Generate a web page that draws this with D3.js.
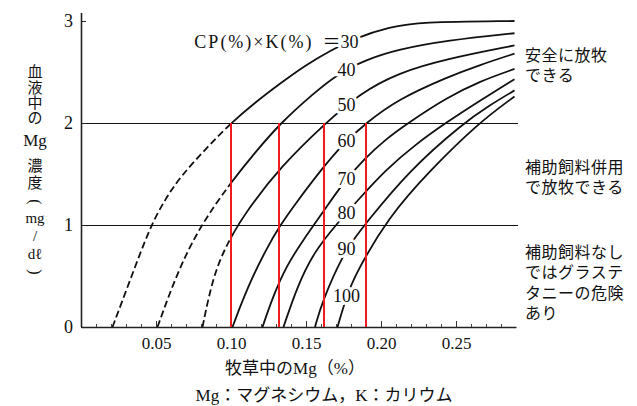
<!DOCTYPE html>
<html>
<head>
<meta charset="utf-8">
<script src="https://cdn.jsdelivr.net/npm/d3@7"></script>
<style>
  body { margin: 0; background: #fff; }
  text { font-family: "Liberation Serif", "Noto Sans CJK JP", serif; fill: #111; }
</style>
</head>
<body>
<div id="chart"></div>
<script>
// CP(%) x K(%) values, one curve each
const cpK = [30, 40, 50, 60, 70, 80, 90, 100];

// Mg in forage (%) -> Mg in blood (mg/dl)
const mg30 = [0.021, 0.033, 0.046, 0.056, 0.066, 0.084, 0.100, 0.116, 0.133, 0.149, 0.166, 0.184, 0.206, 0.225, 0.289];
const bl30 = [0, 0.47, 0.98, 1.25, 1.47, 1.76, 2.0, 2.2, 2.39, 2.56, 2.71, 2.84, 2.94, 2.99, 3.0];
const mg40 = [0.051, 0.064, 0.079, 0.099, 0.116, 0.133, 0.155, 0.171, 0.190, 0.211, 0.244, 0.289];
const bl40 = [0, 0.53, 0.98, 1.40, 1.71, 2.0, 2.29, 2.48, 2.62, 2.72, 2.81, 2.88];
const mg50 = [0.081, 0.088, 0.098, 0.111, 0.133, 0.163, 0.186, 0.211, 0.244, 0.289];
const bl50 = [0, 0.50, 0.84, 1.15, 1.57, 2.0, 2.29, 2.49, 2.63, 2.76];
const mg60 = [0.101, 0.111, 0.124, 0.133, 0.141, 0.161, 0.175, 0.190, 0.211, 0.244, 0.266, 0.289];
const bl60 = [0, 0.39, 0.78, 1.0, 1.17, 1.56, 1.80, 2.0, 2.23, 2.45, 2.57, 2.68];
const mg70 = [0.121, 0.128, 0.137, 0.148, 0.161, 0.175, 0.189, 0.203, 0.218, 0.244, 0.266, 0.289];
const bl70 = [0, 0.30, 0.60, 0.85, 1.12, 1.42, 1.65, 1.84, 2.0, 2.25, 2.41, 2.53];
const mg80 = [0.135, 0.144, 0.155, 0.171, 0.185, 0.203, 0.223, 0.243, 0.266, 0.289];
const bl80 = [0, 0.39, 0.73, 1.02, 1.25, 1.54, 1.79, 2.0, 2.22, 2.43];
const mg90 = [0.156, 0.161, 0.175, 0.184, 0.189, 0.219, 0.255, 0.272, 0.289];
const bl90 = [0, 0.26, 0.72, 0.9, 1.0, 1.54, 2.0, 2.17, 2.32];
const mg100 = [0.171, 0.177, 0.183, 0.205, 0.233, 0.265, 0.289];
const bl100 = [0, 0.30, 0.52, 1.08, 1.54, 2.0, 2.26];

// forage Mg where each red line meets blood Mg = 2
const criticalMg = [0.100, 0.132, 0.162, 0.190];
const criticalBlood = 2;
const gridBlood = [1, 2];
const dashedBelowMg = 0.10;

const yTicks = [0, 1, 2, 3];
const xMajor = [0.05, 0.10, 0.15, 0.20, 0.25];
const xMinor = d3.range(1, 29).map(d => d / 100);

const yTitle = ["血", "液", "中", "の", "Mg", "濃", "度", "(", "mg", "/", "dℓ", ")"];
const zoneSafe = ["安全に放牧", "できる"];
const zoneFeed = ["補助飼料併用", "で放牧できる"];
const zoneRisk = ["補助飼料なし", "ではグラステ", "タニーの危険", "あり"];
const xTitle = "牧草中のMg（%）";
const caption = "Mg：マグネシウム，K：カリウム";
const legendText = "CP(%)×K(%)";

const series = [
  {k: 30, mg: mg30, bl: bl30}, {k: 40, mg: mg40, bl: bl40},
  {k: 50, mg: mg50, bl: bl50}, {k: 60, mg: mg60, bl: bl60},
  {k: 70, mg: mg70, bl: bl70}, {k: 80, mg: mg80, bl: bl80},
  {k: 90, mg: mg90, bl: bl90}, {k: 100, mg: mg100, bl: bl100}
].map(s => ({k: s.k, pts: s.mg.map((m, i) => [m, s.bl[i]])}));

const width = 637, height = 406;
const x = d3.scaleLinear().domain([0, 0.29]).range([81, 516]);
const y = d3.scaleLinear().domain([0, 3]).range([327, 21]);

const svg = d3.select("#chart").append("svg")
  .attr("width", width)
  .attr("height", height);

svg.append("rect").attr("width", width).attr("height", height).attr("fill", "#fff");

// clip areas for the dashed (extrapolated) and solid parts
const defs = svg.append("defs");
defs.append("clipPath").attr("id", "clipDash")
  .append("rect").attr("x", 0).attr("y", 0)
  .attr("width", x(dashedBelowMg)).attr("height", height);
defs.append("clipPath").attr("id", "clipSolid")
  .append("rect").attr("x", x(dashedBelowMg)).attr("y", 0)
  .attr("width", width).attr("height", height);

// grid lines at 1 and 2
svg.selectAll(".grid").data(gridBlood).join("line")
  .attr("x1", x(0)).attr("x2", x(0.29) + 2)
  .attr("y1", d => y(d) + 0.5).attr("y2", d => y(d) + 0.5)
  .attr("stroke", "#111").attr("stroke-width", 1);

// axes
const xAxisMinor = svg.append("g")
  .attr("transform", `translate(0,${y(0)})`)
  .call(d3.axisBottom(x).tickValues(xMinor).tickSize(-3).tickSizeOuter(0).tickFormat(""));
xAxisMinor.select(".domain").attr("stroke-width", 1.6).attr("stroke", "#222");
xAxisMinor.selectAll(".tick line").attr("stroke", "#444");

const xAxis = svg.append("g")
  .attr("transform", `translate(0,${y(0)})`)
  .call(d3.axisBottom(x).tickValues(xMajor).tickSize(-6).tickSizeOuter(0).tickPadding(10)
    .tickFormat(d3.format(".2f")));
xAxis.select(".domain").remove();
xAxis.selectAll(".tick line").attr("stroke", "#333");
xAxis.selectAll("text").attr("font-size", 17).attr("font-family", "Liberation Serif").attr("fill", "#111");

const yAxis = svg.append("g")
  .attr("transform", `translate(${x(0)},0)`)
  .call(d3.axisLeft(y).tickValues(yTicks).tickSize(-5).tickSizeOuter(0).tickPadding(8)
    .tickFormat(d3.format("d")));
yAxis.select(".domain").remove();
yAxis.selectAll(".tick line").attr("stroke", "#222");
yAxis.selectAll("text").attr("font-size", 18).attr("font-family", "Liberation Serif").attr("fill", "#111");

svg.append("line")
  .attr("x1", x(0) + 0.5).attr("x2", x(0) + 0.5)
  .attr("y1", y(0)).attr("y2", y(3) - 8)
  .attr("stroke", "#222").attr("stroke-width", 1.6);

// curves
const line = d3.line()
  .x(d => x(d[0]))
  .y(d => y(d[1]))
  .curve(d3.curveBasis);

const curves = svg.append("g");
curves.selectAll(".dash").data(series.filter(s => s.pts[0][0] < dashedBelowMg)).join("path")
  .attr("d", d => line(d.pts))
  .attr("clip-path", "url(#clipDash)")
  .attr("fill", "none").attr("stroke", "#111").attr("stroke-width", 1.8)
  .attr("stroke-dasharray", "7,3.5");
curves.selectAll(".solid").data(series).join("path")
  .attr("d", d => line(d.pts))
  .attr("clip-path", "url(#clipSolid)")
  .attr("fill", "none").attr("stroke", "#111").attr("stroke-width", 1.8);

// curve labels, sitting on each curve
const labelMg = 0.177;
const labels = svg.append("g");
series.forEach(s => {
  const interp = d3.scaleLinear().domain(s.pts.map(p => p[0])).range(s.pts.map(p => p[1]));
  const lx = x(labelMg), ly = y(interp(labelMg));
  labels.append("text")
    .attr("x", s.k === 30 ? lx + 12 : lx)
    .attr("y", ly)
    .attr("text-anchor", s.k === 30 ? "end" : "middle")
    .attr("dominant-baseline", "central")
    .attr("font-size", 18)
    .attr("stroke", "#fff").attr("stroke-width", 6)
    .attr("paint-order", "stroke")
    .text(s.k === 30 ? "＝" + s.k : s.k);
  if (s.k === 30) {
    labels.append("text")
      .attr("x", lx - 33)
      .attr("y", ly)
      .attr("text-anchor", "end")
      .attr("dominant-baseline", "central")
      .attr("font-size", 18)
      .attr("letter-spacing", 2)
      .text(legendText);
  }
});

// red critical lines
svg.selectAll(".crit").data(criticalMg).join("line")
  .attr("x1", d => x(d)).attr("x2", d => x(d))
  .attr("y1", y(0)).attr("y2", y(criticalBlood))
  .attr("stroke", "#f01c1c").attr("stroke-width", 2);

// zone notes on the right
function note(lines, cy) {
  svg.append("g").selectAll("text").data(lines).join("text")
    .attr("x", x(0.29) + 9)
    .attr("y", (d, i) => cy + i * 20.5)
    .attr("dominant-baseline", "central")
    .attr("font-family", "Noto Sans CJK JP")
    .attr("font-size", 16)
    .attr("letter-spacing", 0.5)
    .text(d => d);
}
note(zoneSafe, 55);
note(zoneFeed, 167);
note(zoneRisk, 252);

// vertical y title, brackets turned for vertical writing
const yTitleStep = [72, 88, 103, 118, 140, 166, 183, 202, 218, 236, 254, 272];
svg.append("g").selectAll("text").data(yTitle).join("text")
  .attr("x", 35)
  .attr("y", (d, i) => yTitleStep[i])
  .attr("text-anchor", "middle")
  .attr("dominant-baseline", "central")
  .attr("font-size", d => d === "Mg" ? 17 : (/[()]/.test(d) ? 16 : 15))
  .attr("transform", (d, i) => /[()]/.test(d) ? `rotate(90,35,${yTitleStep[i]})` : null)
  .text(d => d);

// x title and caption
svg.append("text")
  .attr("x", 295).attr("y", 368)
  .attr("text-anchor", "middle").attr("dominant-baseline", "central")
  .attr("font-size", 17)
  .text(xTitle);

svg.append("text")
  .attr("x", 324).attr("y", 395)
  .attr("text-anchor", "middle").attr("dominant-baseline", "central")
  .attr("font-size", 17)
  .text(caption);
</script>
</body>
</html>
